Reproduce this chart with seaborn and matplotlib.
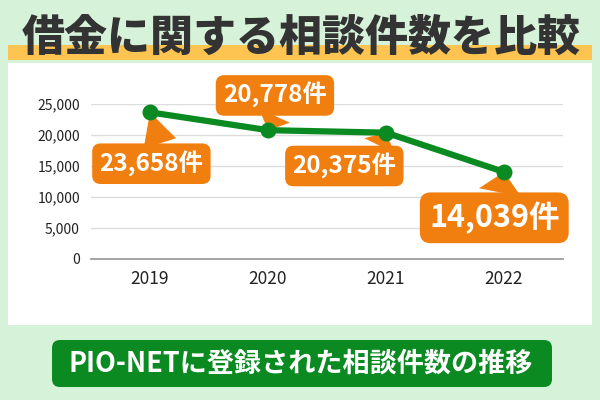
import matplotlib
matplotlib.use("Agg")
import matplotlib.pyplot as plt
import matplotlib.patches as mpatches
import seaborn as sns
import pandas as pd

years = ["2019", "2020", "2021", "2022"]
counts = [23658, 20778, 20375, 14039]
labels = ["23,658件", "20,778件", "20,375件", "14,039件"]
y_ticks = [0, 5000, 10000, 15000, 20000, 25000]

title = "借金に関する相談件数を比較"
caption = "PIO-NETに登録された相談件数の推移"

BG = "#d6f3d9"
YELLOW = "#fdc452"
ORANGE = "#f07f10"
GREEN = "#0b8a22"

sns.set_theme(style="white")
plt.rcParams['font.family'] = ['Noto Sans CJK JP', 'DejaVu Sans']

fig = plt.figure(figsize=(6, 4), dpi=100)
fig.patch.set_facecolor(BG)

# background layer in pixel coords
bg = fig.add_axes([0, 0, 1, 1], zorder=0)
bg.set_xlim(0, 600)
bg.set_ylim(400, 0)
bg.axis("off")
bg.add_patch(mpatches.Rectangle((8, 45), 584, 15, color=YELLOW, lw=0))
bg.text(301, 38, title, ha="center", va="center", fontsize=31,
        fontweight="heavy", color="#333333")
bg.add_patch(mpatches.Rectangle((8, 63), 584, 262, color="white", lw=0))
bg.add_patch(mpatches.FancyBboxPatch((52, 340), 500, 47,
                                     boxstyle="round,pad=0,rounding_size=8",
                                     color=GREEN, lw=0))
bg.text(301, 364, caption, ha="center", va="center", fontsize=19.5,
        fontweight="bold", color="white")

df = pd.DataFrame({"year": years, "count": counts})

ax = fig.add_axes([91 / 600, 1 - 259 / 400, 472 / 600, 155 / 400], zorder=1)
ax.patch.set_alpha(0)
sns.lineplot(data=df, x="year", y="count", ax=ax, color=GREEN, lw=4.5,
             marker="o", markersize=11.5, markeredgewidth=0, zorder=5,
             clip_on=False)
ax.set_xlim(-0.5, 3.5)
ax.set_ylim(0, 25000)
ax.set_yticks(y_ticks)
ax.set_yticklabels([f"{t:,}" for t in y_ticks])
ax.grid(axis="y", color="#dddddd", lw=1)
ax.set_axisbelow(True)
for s in ["top", "right", "left"]:
    ax.spines[s].set_visible(False)
ax.spines["bottom"].set_color("#999999")
ax.tick_params(axis="both", length=0, colors="#222222")
ax.tick_params(axis="y", pad=8, labelsize=10)
ax.tick_params(axis="x", pad=8, labelsize=12.5)
ax.set_xlabel("")
ax.set_ylabel("")

# callouts: offset in points, font size, where the pointer leaves the box
offsets = [(1, -37), (5, 25), (-30, -24), (-7, -33)]
sizes = [17.5, 17.5, 17.5, 22]
anchors = [(0.62, 0.8), (0.55, 0.2), (0.78, 0.8), (0.52, 0.8)]
for i, (lab, off, fs, rp) in enumerate(zip(labels, offsets, sizes, anchors)):
    ax.annotate(lab, xy=(i, counts[i]), xytext=off, textcoords="offset points",
                ha="center", va="center", fontsize=fs, fontweight="bold",
                color="white", annotation_clip=False,
                bbox=dict(boxstyle="round,pad=0.3,rounding_size=0.35",
                          fc=ORANGE, ec="none"),
                arrowprops=dict(arrowstyle="wedge,tail_width=1.4",
                                fc=ORANGE, ec="none", shrinkA=0, shrinkB=0,
                                relpos=rp),
                zorder=4)

fig.savefig("out.png", dpi=100, facecolor=BG)
